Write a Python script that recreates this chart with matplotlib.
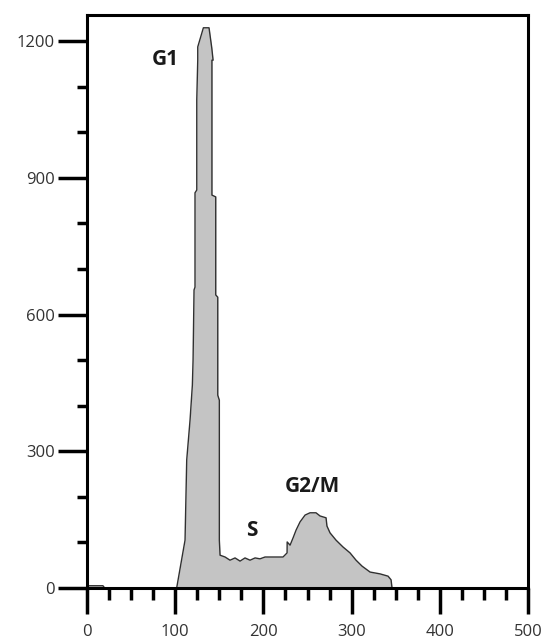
import matplotlib.pyplot as plt
from matplotlib.ticker import MultipleLocator

# DNA content histogram (channel vs. cell count)
channel = [0, 2, 18, 20, 101.6, 111.1, 113.0, 116.8, 119.4, 120.2, 121.3, 122.4, 122.4,
           124.4, 124.4, 125.5, 125.5, 131.9, 138.3, 141.4, 142.9, 141.6, 141.6, 145.9,
           145.9, 148.2, 148.2, 150.0, 150.0, 150.8, 156.5, 162.1, 167.8, 173.5, 179.1,
           184.8, 190.5, 196.1, 201.8, 222.2, 226.8, 226.9, 230.2, 233.6, 237.0, 241.5,
           247.2, 252.8, 259.6, 264.2, 271.0, 272.0, 275.5, 282.3, 290.2, 298.2, 305.0,
           311.8, 320.9, 332.2, 341.3, 344.7, 345.8, 500]
counts = [0, 5, 5, 0, 0, 105, 281, 369, 445, 500, 654, 660, 867,
          873, 1071, 1158, 1187, 1229, 1229, 1185, 1158, 1158, 862, 858,
          643, 638, 423, 412, 105, 72, 68, 61, 66, 59, 66,
          61, 66, 64, 68, 68, 77, 101, 94, 110, 127, 145,
          160, 165, 165, 158, 154, 136, 121, 105, 90, 77, 61,
          48, 35, 31, 26, 18, 0, 0]

labels = ["G1", "S", "G2/M"]
label_x = [89, 187, 256]
label_y = [1160, 127, 222]

fig = plt.figure(figsize=(5.51, 6.42), dpi=100)
ax = fig.add_axes([0.158, 0.0841, 0.8003, 0.8925])

ax.fill_between(channel, counts, 0, color="#c4c4c4", linewidth=0)
ax.plot(channel, counts, color="#303030", linewidth=1.0)

for txt, x, y in zip(labels, label_x, label_y):
    ax.text(x, y, txt, fontsize=15, fontweight="bold", color="#1a1a1a",
            ha="center", va="center", family="Open Sans")

ax.set_xlim(0, 500)
ax.set_ylim(0, 1257)
ax.xaxis.set_major_locator(MultipleLocator(100))
ax.xaxis.set_minor_locator(MultipleLocator(25))
ax.yaxis.set_major_locator(MultipleLocator(300))
ax.yaxis.set_minor_locator(MultipleLocator(100))

for s in ax.spines.values():
    s.set_linewidth(2.2)

ax.tick_params(axis="x", which="major", direction="out", length=19, width=2.5,
               pad=7, labelsize=12, labelcolor="#333333")
ax.tick_params(axis="x", which="minor", direction="out", length=8.5, width=2.5)
ax.tick_params(axis="y", which="major", direction="out", length=21, width=2.5,
               pad=2, labelsize=12, labelcolor="#333333")
ax.tick_params(axis="y", which="minor", direction="out", length=7, width=2.5)
for lab in ax.get_xticklabels() + ax.get_yticklabels():
    lab.set_family("Open Sans")

fig.savefig("out.png", dpi=100)
